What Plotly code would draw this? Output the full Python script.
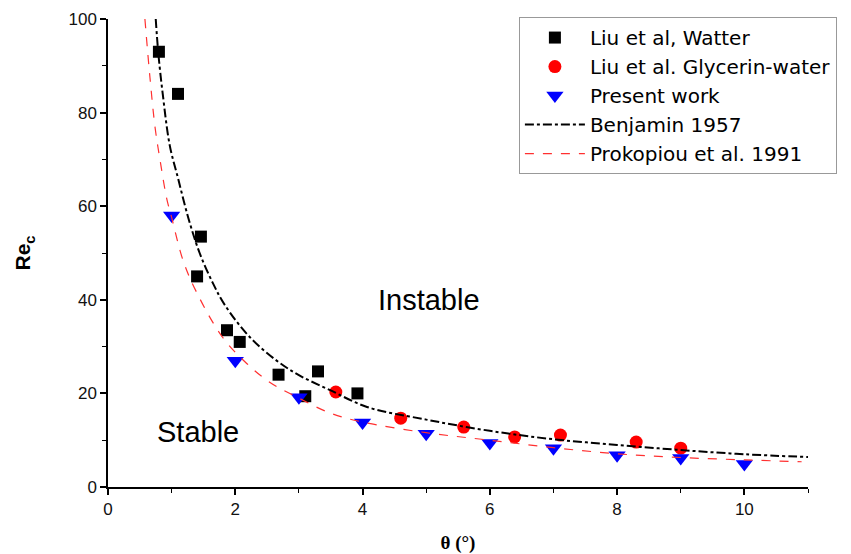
import plotly.graph_objects as go

# Liu et al, Watter (black squares)
water_x = [0.8, 1.1, 1.46, 1.4, 1.87, 2.07, 2.68, 3.1, 3.3, 3.92]
water_y = [93, 84, 53.5, 45, 33.5, 31, 24, 19.4, 24.7, 20]

# Liu et al. Glycerin-water (red circles)
glyc_x = [3.58, 4.6, 5.59, 6.39, 7.11, 8.3, 9.0]
glyc_y = [20.3, 14.7, 12.8, 10.7, 11.1, 9.6, 8.3]

# Present work (blue triangles)
pres_x = [1, 2, 3, 4, 5, 6, 7, 8, 9, 10]
pres_y = [58, 27, 19.2, 13.8, 11.4, 9.4, 8.3, 6.8, 6.2, 4.9]

# Benjamin 1957
benj_x = [0.75, 0.79, 0.86, 0.97, 1.1, 1.26, 1.44, 1.65, 1.84, 2.23, 2.65, 3.0, 3.49, 4.07, 5.0, 6.0, 7.0, 8.0, 9.0, 10.0, 11.0]
benj_y = [100, 92.8, 84, 73, 66, 57.6, 50, 43.5, 38.8, 32, 27, 23.9, 20.7, 17.1, 14.4, 12.0, 10.2, 9.0, 7.9, 7.0, 6.4]

# Prokopiou et al. 1991
prok_x = [0.58, 0.66, 0.74, 0.82, 0.92, 1.0, 1.18, 1.4, 1.8, 2.18, 2.54, 2.97, 3.49, 3.99, 5.0, 6.0, 7.0, 8.0, 9.0, 10.0, 10.9]
prok_y = [100, 87.4, 76.8, 69.7, 61.8, 57.6, 48.4, 41.4, 32, 26.4, 22.4, 19.2, 15.8, 13.9, 11.6, 10.0, 8.4, 7.1, 6.3, 5.8, 5.4]

x_ticks = [0, 2, 4, 6, 8, 10]
y_ticks = [0, 20, 40, 60, 80, 100]

fig = go.Figure()
fig.add_trace(go.Scatter(x=water_x, y=water_y, mode="markers", name="Liu et al, Watter",
                         marker=dict(symbol="square", size=12, color="black")))
fig.add_trace(go.Scatter(x=glyc_x, y=glyc_y, mode="markers", name="Liu et al. Glycerin-water",
                         marker=dict(symbol="circle", size=13, color="#ff0000")))
fig.add_trace(go.Scatter(x=pres_x, y=pres_y, mode="markers", name="Present work",
                         marker=dict(symbol="triangle-down", size=15, color="#0000ff")))
fig.add_trace(go.Scatter(x=benj_x, y=benj_y, mode="lines", name="Benjamin 1957",
                         line=dict(color="black", width=2, dash="dashdot", shape="spline")))
fig.add_trace(go.Scatter(x=prok_x, y=prok_y, mode="lines", name="Prokopiou et al. 1991",
                         line=dict(color="#ff3030", width=1.2, dash="dash", shape="spline")))

fig.add_annotation(x=5.05, y=40, text="Instable", showarrow=False,
                   font=dict(family="Liberation Sans, Arial", size=29, color="black"))
fig.add_annotation(x=1.41, y=11.7, text="Stable", showarrow=False,
                   font=dict(family="Liberation Sans, Arial", size=29, color="black"))

axis_common = dict(showline=True, linecolor="black", linewidth=1.5, ticks="outside",
                   ticklen=6, tickwidth=1.5, tickcolor="black", showgrid=False, zeroline=False,
                   automargin=False,
                   tickfont=dict(family="Liberation Sans, Arial", size=17, color="#111"),
                   minor=dict(ticks="outside", ticklen=4, tickwidth=1.2, tickcolor="black"))

fig.update_xaxes(range=[0, 11], tickvals=x_ticks, **axis_common,
                 title=dict(text="<b>θ (°)</b>", font=dict(family="Liberation Serif, Times New Roman", size=19, color="black"), standoff=18))
fig.update_xaxes(minor=dict(dtick=1, tick0=0))
fig.update_yaxes(range=[0, 100], tickvals=y_ticks, **axis_common,
                 title=dict(text="<b>Re<sub>c</sub></b>", font=dict(family="Liberation Sans, Arial", size=21, color="black"), standoff=32))
fig.update_yaxes(minor=dict(dtick=10, tick0=0))

fig.update_layout(
    width=843, height=546,
    margin=dict(l=100, r=43, t=10, b=67),
    plot_bgcolor="white", paper_bgcolor="white",
    font=dict(family="Liberation Sans, Arial"),
    legend=dict(x=0.587, y=1.002, xanchor="left", yanchor="top",
                bordercolor="#999", borderwidth=1, bgcolor="white",
                font=dict(family="DejaVu Sans", size=20, color="black"),
                itemwidth=60, tracegroupgap=0),
)

fig.write_html("out.html")
